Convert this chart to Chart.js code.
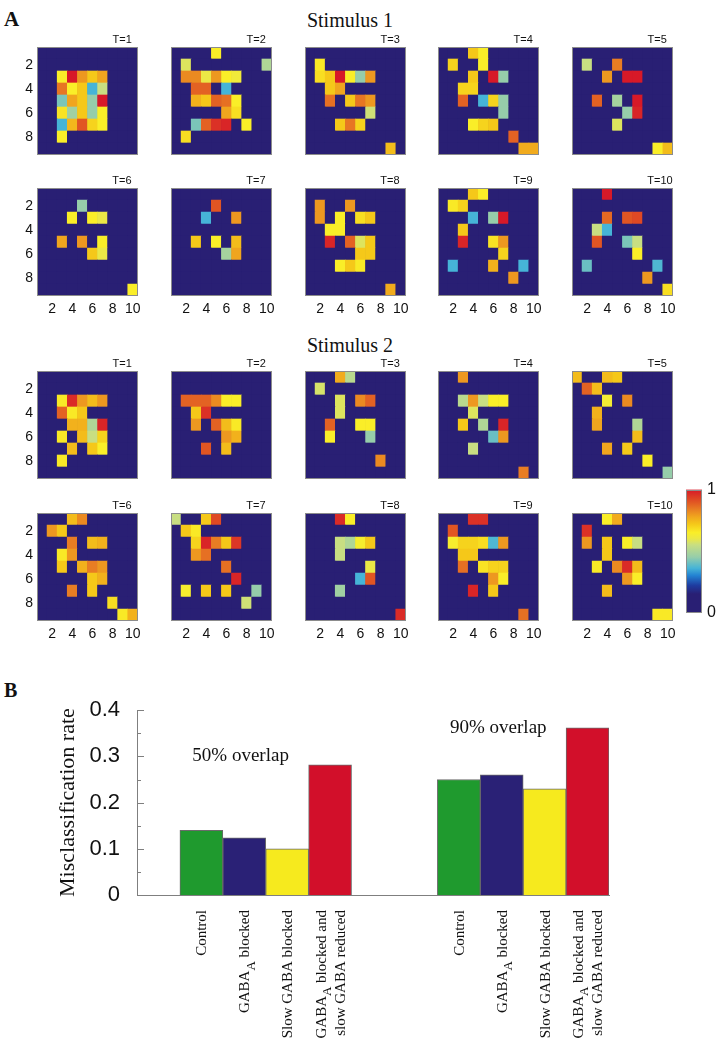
<!DOCTYPE html>
<html><head><meta charset="utf-8">
<script src="https://cdn.jsdelivr.net/npm/chart.js@4.4.1/dist/chart.umd.min.js"></script>
<style>
html,body{margin:0;padding:0;background:#fff;}
#page{position:relative;width:727px;height:1050px;overflow:hidden;background:#fff;}
#page canvas{position:absolute;}
.lbl{position:absolute;white-space:nowrap;font-family:'Liberation Serif','Times New Roman',serif;color:#111;line-height:1;}
</style></head><body><div id="page">
<div class="lbl" style="left:4px;top:9px;font-size:21px;font-weight:bold">A</div>
<div class="lbl" style="left:250px;width:200px;text-align:center;top:10px;font-size:20px">Stimulus 1</div>
<div class="lbl" style="left:250px;width:200px;text-align:center;top:335px;font-size:20px">Stimulus 2</div>
<div class="lbl" style="left:4px;top:680px;font-size:20px;font-weight:bold">B</div>
</div>
<script>
// ================= DATA =================
const ROW_TICKS = [2, 4, 6, 8];
const COL_TICKS = [2, 4, 6, 8, 10];
const T_LABELS = ['T=1','T=2','T=3','T=4','T=5','T=6','T=7','T=8','T=9','T=10'];
const COLORBAR_TICKS = [0, 1];

// Heat-map cells: [row, column, value]; cells not listed read as 0
const S1_T1 = [[3,3,.65],[3,4,1],[3,5,.8],[3,6,.72],[3,7,.78],[4,3,.85],[4,4,.65],[4,5,.72],[4,6,.36],[4,7,.55],[5,3,.42],[5,4,.78],[5,5,.72],[5,6,.45],[5,7,1],[6,3,.67],[6,4,.47],[6,5,.72],[6,6,.45],[6,7,.65],[7,3,.36],[7,4,.75],[7,5,.9],[7,6,.7],[7,7,.65],[8,3,.65]];
const S1_T2 = [[1,5,.65],[2,2,.58],[2,10,.5],[3,2,.82],[3,3,.82],[3,4,.6],[3,5,.8],[3,6,.65],[3,7,.62],[4,3,.88],[4,4,.88],[4,6,.36],[5,3,.76],[5,4,.72],[5,5,.88],[5,6,.86],[5,7,.65],[6,6,.78],[6,7,.68],[7,3,.42],[7,4,.88],[7,5,.96],[7,6,.98],[7,8,.65],[8,2,.68]];
const S1_T3 = [[2,2,.66],[3,2,.68],[3,3,.72],[3,4,1],[3,5,.65],[3,6,.45],[3,7,.8],[4,3,.72],[4,4,.78],[5,3,.86],[5,5,.72],[5,6,.85],[5,7,.8],[6,7,.56],[7,4,.72],[7,5,.85],[7,6,.7],[9,9,.74]];
const S1_T4 = [[1,4,.72],[1,5,.65],[2,2,.7],[2,5,.65],[3,4,.72],[3,6,1],[3,7,.45],[4,3,.7],[4,4,.7],[5,3,.88],[5,5,.36],[5,6,.7],[5,7,.45],[6,7,.45],[7,4,.65],[7,5,.7],[7,6,.72],[8,8,.88],[9,9,.77],[9,10,.77]];
const S1_T5 = [[2,2,.55],[2,5,.84],[3,4,.8],[3,6,1],[3,7,1],[5,3,.88],[5,5,.48],[5,7,1],[6,6,.45],[6,7,.98],[7,5,.58],[9,9,.65],[9,10,.74]];
const S1_T6 = [[2,5,.45],[3,4,.65],[3,6,.65],[3,7,.6],[5,3,.78],[5,5,.8],[5,7,.65],[6,6,.72],[6,7,.6],[9,10,.65]];
const S1_T7 = [[2,5,.9],[3,4,.36],[3,7,.8],[5,3,.72],[5,5,.65],[5,7,.74],[6,6,.48],[6,7,.78]];
const S1_T8 = [[2,2,.8],[2,5,.8],[3,2,.8],[3,4,.65],[3,6,.68],[3,7,.72],[4,3,.65],[4,4,.65],[5,3,.98],[5,5,.88],[5,6,.58],[5,7,.72],[6,6,.72],[6,7,.72],[7,4,.65],[7,5,.72],[7,6,.66],[9,9,.77]];
const S1_T9 = [[1,4,.72],[1,5,.65],[2,2,.66],[2,3,.7],[3,4,.36],[3,6,.45],[3,7,1],[4,3,.72],[5,3,.98],[5,6,.67],[5,7,.8],[6,7,.7],[7,2,.36],[7,6,.76],[7,9,.36],[8,8,.8]];
const S1_T10 = [[1,4,1],[3,4,.87],[3,6,.9],[3,7,.92],[4,3,.55],[4,4,.36],[5,3,.9],[5,6,.42],[5,7,.55],[6,7,.65],[7,2,.4],[7,9,.37],[8,8,.8],[9,10,.68]];

const S2_T1 = [[3,3,.66],[3,4,.97],[3,5,.8],[3,6,.74],[3,7,.8],[4,3,.88],[4,4,.66],[4,5,.72],[5,4,.76],[5,5,.76],[5,6,.5],[5,7,.98],[6,3,.66],[6,5,.74],[6,6,.55],[6,7,.7],[7,4,.74],[7,6,.72],[7,7,.65],[8,3,.66]];
const S2_T2 = [[3,2,.88],[3,3,.88],[3,4,.88],[3,5,.82],[3,6,.65],[3,7,.65],[4,3,.72],[4,4,.96],[5,3,.8],[5,5,.88],[5,6,.74],[5,7,.66],[6,6,.8],[6,7,.76],[7,4,.9],[7,6,.74]];
const S2_T3 = [[1,4,.77],[1,5,.52],[2,2,.57],[3,4,.58],[3,6,.82],[3,7,.88],[4,4,.58],[5,3,.88],[5,6,.65],[5,7,.65],[6,3,.65],[6,7,.45],[8,8,.82]];
const S2_T4 = [[1,3,.8],[3,3,.52],[3,4,.8],[3,5,.55],[3,6,.65],[3,7,.65],[4,4,.58],[5,3,.72],[5,5,.5],[5,7,.98],[6,6,.4],[6,7,.8],[7,4,.55],[9,9,.84]];
const S2_T5 = [[1,1,.74],[1,4,.74],[1,5,.72],[2,2,.88],[2,3,.74],[3,4,.63],[3,6,.82],[4,3,.76],[5,3,.78],[5,7,.5],[6,7,.74],[7,4,.78],[7,6,.72],[8,8,.65],[9,10,.45]];
const S2_T6 = [[1,4,.74],[1,5,.82],[2,2,.8],[2,3,.72],[3,4,.84],[3,6,.74],[3,7,.76],[4,3,.66],[4,4,.8],[5,3,.72],[5,5,.76],[5,6,.84],[5,7,.8],[6,6,.72],[6,7,.76],[7,4,.84],[7,6,.72],[8,8,.68],[9,9,.66],[9,10,.76]];
const S2_T7 = [[1,1,.55],[1,4,.72],[1,5,.92],[2,2,.72],[2,3,.66],[3,3,.7],[3,4,.98],[3,5,.84],[3,6,.72],[3,7,.95],[4,3,.8],[4,4,.86],[5,6,.86],[6,7,.98],[7,2,.64],[7,4,.72],[7,6,.72],[7,9,.45],[8,8,.56]];
const S2_T8 = [[1,4,.97],[1,5,.65],[3,4,.55],[3,5,.5],[3,6,.64],[3,7,.72],[4,4,.55],[5,7,.6],[6,6,.36],[6,7,.9],[7,4,.47],[9,10,.97]];
const S2_T9 = [[1,4,.96],[1,5,.96],[2,2,.9],[3,2,.64],[3,3,.7],[3,4,.7],[3,5,.68],[3,6,.37],[3,7,.8],[4,3,.72],[4,4,.72],[5,3,.86],[5,5,.67],[5,6,.7],[5,7,.7],[6,6,.8],[6,7,.65],[7,4,.98],[7,6,.72],[9,9,.86]];
const S2_T10 = [[1,4,.65],[1,5,.77],[2,2,.96],[3,2,.8],[3,4,.72],[3,6,.65],[3,7,.55],[4,4,.72],[5,3,.66],[5,5,.82],[5,6,.97],[5,7,.74],[6,6,.8],[6,7,.65],[7,4,.74],[9,9,.66],[9,10,.66]];

const STIMULUS_1 = [S1_T1,S1_T2,S1_T3,S1_T4,S1_T5,S1_T6,S1_T7,S1_T8,S1_T9,S1_T10];
const STIMULUS_2 = [S2_T1,S2_T2,S2_T3,S2_T4,S2_T5,S2_T6,S2_T7,S2_T8,S2_T9,S2_T10];

// Panel B
const CONDITIONS = ['Control', 'GABA_A blocked', 'Slow GABA blocked', 'GABA_A blocked and\nslow GABA reduced'];
const OVERLAP_50 = [0.14, 0.124, 0.10, 0.282];
const OVERLAP_90 = [0.25, 0.26, 0.23, 0.362];
const GROUP_LABELS = ['50% overlap', '90% overlap'];
const Y_TICKS = [0, 0.1, 0.2, 0.3, 0.4];
const Y_MINOR = [0.05, 0.15, 0.25, 0.35];

// ================= STYLE / LAYOUT =================
const CMAP_STOPS  = [0, 0.15, 0.22, 0.30, 0.36, 0.45, 0.55, 0.60, 0.65, 0.72, 0.78, 0.84, 0.90, 1.0];
const CMAP_COLORS = [[41,31,116],[41,31,116],[30,60,160],[35,130,210],[70,180,215],[150,205,170],[200,222,130],[235,232,70],[250,238,40],[245,200,25],[240,165,30],[232,125,35],[225,85,35],[215,25,40]];
function cmap(v) {
  v = Math.max(0, Math.min(1, v));
  for (let i = 1; i < CMAP_STOPS.length; i++) {
    if (v <= CMAP_STOPS[i]) {
      const a = CMAP_STOPS[i-1], b = CMAP_STOPS[i];
      const t = b === a ? 0 : (v - a) / (b - a);
      const c0 = CMAP_COLORS[i-1], c1 = CMAP_COLORS[i];
      return 'rgb(' + c0.map((c, k) => Math.round(c + (c1[k] - c) * t)).join(',') + ')';
    }
  }
  return 'rgb(' + CMAP_COLORS[CMAP_COLORS.length-1].join(',') + ')';
}

const SANS = "'Liberation Sans', Arial, sans-serif";
const NARROW = "'Liberation Sans Narrow', 'Liberation Sans', Arial, sans-serif";
const SERIF = "'Liberation Serif', 'Times New Roman', serif";
const PANEL_LEFT = [37, 171, 305, 438, 572];
const PANEL_TOP = [47, 188, 371, 513];
const PANEL_W = 101, PANEL_H = 108;
const YAX_W = 36, XAX_H = 26, PAD_T = 16, PAD_R = 8;
const N_ROWS = 9, N_COLS = 10;

const page = document.getElementById('page');
function addCanvas(left, top, w, h) {
  const cv = document.createElement('canvas');
  cv.width = w; cv.height = h;
  cv.style.left = left + 'px'; cv.style.top = top + 'px';
  cv.style.width = w + 'px'; cv.style.height = h + 'px';
  page.appendChild(cv);
  return cv;
}

const framePlugin = {
  id: 'frame',
  beforeDatasetsDraw(chart, args, opts) {
    const a = chart.chartArea, ctx = chart.ctx;
    if (opts.bg) { ctx.save(); ctx.fillStyle = opts.bg; ctx.fillRect(a.left, a.top, a.right - a.left, a.bottom - a.top); ctx.restore(); }
  },
  afterDatasetsDraw(chart, args, opts) {
    const a = chart.chartArea, ctx = chart.ctx;
    ctx.save();
    ctx.strokeStyle = opts.border || '#8c8c8c';
    ctx.lineWidth = 1;
    ctx.strokeRect(Math.round(a.left) + 0.5, Math.round(a.top) + 0.5, Math.round(a.right - a.left) - 1, Math.round(a.bottom - a.top) - 1);
    if (opts.label) {
      ctx.fillStyle = '#111';
      ctx.font = '11px ' + SANS;
      ctx.textAlign = 'left';
      ctx.textBaseline = 'middle';
      ctx.fillText(opts.label, a.right - 25.5, a.top - 7.5);
    }
    ctx.restore();
  }
};

function makeHeat(cells, left, top, showY, showX, label) {
  const grid = [];
  for (let r = 0; r < N_ROWS; r++) { grid.push(new Array(N_COLS).fill(0)); }
  cells.forEach(([r, c, v]) => { grid[r-1][c-1] = v; });
  const data = [], colors = [];
  for (let r = 1; r <= N_ROWS; r++) {
    for (let c = 1; c <= N_COLS; c++) {
      data.push({ x: c, y: [r - 0.5, r + 0.5] });
      colors.push(cmap(grid[r-1][c-1]));
    }
  }
  const W = YAX_W + PANEL_W + PAD_R, H = PAD_T + PANEL_H + XAX_H;
  const cv = addCanvas(left - YAX_W, top - PAD_T, W, H);
  const tickFont = { family: NARROW, size: 14 };
  new Chart(cv, {
    type: 'bar',
    data: { datasets: [{ data, backgroundColor: colors, borderWidth: 0, barPercentage: 1, categoryPercentage: 1 }] },
    options: {
      responsive: false, animation: false, devicePixelRatio: 1, events: [],
      layout: { padding: { top: PAD_T, right: PAD_R, left: 0, bottom: 0 } },
      plugins: { legend: { display: false }, tooltip: { enabled: false }, frame: { bg: cmap(0), label } },
      scales: {
        x: {
          type: 'linear', min: 0.5, max: 10.5, offset: false,
          grid: { display: false, drawTicks: false }, border: { display: false },
          ticks: { display: showX, autoSkip: false, maxRotation: 0, padding: 5, font: tickFont, color: '#111' },
          afterBuildTicks: (a) => { a.ticks = COL_TICKS.map(v => ({ value: v })); },
          afterFit: (a) => { a.height = XAX_H; }
        },
        y: {
          type: 'linear', reverse: true, min: 0.5, max: 9.5,
          grid: { display: false, drawTicks: false }, border: { display: false },
          ticks: { display: showY, autoSkip: false, padding: 4, font: tickFont, color: '#111' },
          afterBuildTicks: (a) => { a.ticks = ROW_TICKS.map(v => ({ value: v })); },
          afterFit: (a) => { a.width = YAX_W; }
        }
      }
    },
    plugins: [framePlugin]
  });
}

[STIMULUS_1, STIMULUS_2].forEach((stim, s) => {
  stim.forEach((cells, t) => {
    const rowIdx = s * 2 + (t < 5 ? 0 : 1);
    const colIdx = t % 5;
    makeHeat(cells, PANEL_LEFT[colIdx], PANEL_TOP[rowIdx], colIdx === 0, t >= 5, T_LABELS[t]);
  });
});

// ---------- colour bar ----------
(function () {
  const cv = addCanvas(686, 475, 42, 152);
  new Chart(cv, {
    type: 'bar',
    data: { labels: [''], datasets: [{
      data: [[0, 1]], borderWidth: 0, barPercentage: 1, categoryPercentage: 1,
      backgroundColor: (ctx) => {
        const a = ctx.chart.chartArea;
        if (!a) return cmap(0.5);
        const g = ctx.chart.ctx.createLinearGradient(0, a.bottom, 0, a.top);
        CMAP_STOPS.forEach((s, i) => g.addColorStop(s, 'rgb(' + CMAP_COLORS[i].join(',') + ')'));
        return g;
      }
    }] },
    options: {
      responsive: false, animation: false, devicePixelRatio: 1, events: [],
      layout: { padding: { top: 10, bottom: 10, left: 0, right: 0 } },
      plugins: { legend: { display: false }, tooltip: { enabled: false }, frame: { border: '#8c8c8c' } },
      scales: {
        x: { display: false },
        y: {
          position: 'right', min: 0, max: 1,
          grid: { display: false, drawTicks: false }, border: { display: false },
          ticks: { padding: 5, font: { family: SANS, size: 16 }, color: '#111' },
          afterBuildTicks: (a) => { a.ticks = COLORBAR_TICKS.map(v => ({ value: v })); },
          afterFit: (a) => { a.width = 26; }
        }
      }
    },
    plugins: [framePlugin]
  });
})();

// ---------- panel B bar chart ----------
const CONDITION_COLORS = ['#1f9a2e', '#2a2176', '#f6ea1e', '#d20f2a'];
const N_SLOTS = 11, GROUP_START = [1, 7];
const slotValues = new Array(N_SLOTS).fill(null);
const slotColors = new Array(N_SLOTS).fill('rgba(0,0,0,0)');
const slotLabels = new Array(N_SLOTS).fill('');
[OVERLAP_50, OVERLAP_90].forEach((vals, g) => {
  vals.forEach((v, i) => {
    const k = GROUP_START[g] + i;
    slotValues[k] = v; slotColors[k] = CONDITION_COLORS[i]; slotLabels[k] = CONDITIONS[i];
  });
});
const ANNOT = [{ slot: 1.915, value: 0.291 }, { slot: 7.92, value: 0.351 }];

function drawRichLine(ctx, line, x, y, size) {
  const parts = line.split(/(_A)/).filter(p => p.length);
  const fontMain = size + 'px ' + SERIF, fontSub = Math.round(size * 0.85) + 'px ' + SERIF;
  let total = 0;
  parts.forEach(p => { ctx.font = p === '_A' ? fontSub : fontMain; total += ctx.measureText(p === '_A' ? 'A' : p).width; });
  let px = x - total;
  parts.forEach(p => {
    const sub = p === '_A';
    ctx.font = sub ? fontSub : fontMain;
    const t = sub ? 'A' : p;
    ctx.fillText(t, px, y + (sub ? 6 : 0));
    px += ctx.measureText(t).width;
  });
}

const barDecor = {
  id: 'barDecor',
  afterDatasetsDraw(chart) {
    const ctx = chart.ctx, xs = chart.scales.x, ys = chart.scales.y, a = chart.chartArea;
    ctx.save();
    ctx.strokeStyle = '#7f7f7f'; ctx.lineWidth = 1;
    Y_TICKS.concat(Y_MINOR).forEach(v => {
      const y = Math.round(ys.getPixelForValue(v)) + 0.5;
      const len = Y_MINOR.includes(v) ? 4 : 7;
      ctx.beginPath(); ctx.moveTo(a.left, y); ctx.lineTo(a.left + len, y); ctx.stroke();
    });
    ctx.fillStyle = '#111';
    ctx.font = '19px ' + SERIF;
    ctx.textAlign = 'center'; ctx.textBaseline = 'alphabetic';
    ANNOT.forEach((p, g) => ctx.fillText(GROUP_LABELS[g], xs.getPixelForValue(p.slot), ys.getPixelForValue(p.value)));
    ctx.textAlign = 'left'; ctx.textBaseline = 'middle';
    slotLabels.forEach((lab, k) => {
      if (!lab) return;
      const lines = lab.split('\n');
      ctx.save();
      ctx.translate(xs.getPixelForValue(k) + 1, a.bottom + 15);
      ctx.rotate(-Math.PI / 2);
      lines.forEach((ln, i) => drawRichLine(ctx, ln, 0, (i - (lines.length - 1) / 2) * 19, 15));
      ctx.restore();
    });
    ctx.restore();
  }
};

(function () {
  const W = 630;
  const cv = addCanvas(0, 680, W, 370);
  new Chart(cv, {
    type: 'bar',
    data: { labels: slotLabels, datasets: [{
      data: slotValues, backgroundColor: slotColors, borderColor: '#6a6a6a', borderWidth: 1,
      barPercentage: 1, categoryPercentage: 1
    }] },
    options: {
      responsive: false, animation: false, devicePixelRatio: 1, events: [],
      layout: { padding: { top: 21, right: W - 609, left: 0, bottom: 0 } },
      plugins: { legend: { display: false }, tooltip: { enabled: false } },
      scales: {
        x: {
          grid: { display: false, drawTicks: false },
          border: { display: true, color: '#7f7f7f', width: 1 },
          ticks: { display: false },
          afterFit: (s) => { s.height = 155; }
        },
        y: {
          min: 0, max: 0.4,
          grid: { display: false, drawTicks: false },
          border: { display: true, color: '#7f7f7f', width: 1 },
          ticks: { padding: 17, font: { family: SANS, size: 22 }, color: '#111',
                   callback: (v) => (v === 0 ? '0' : Number(v).toFixed(1)) },
          afterBuildTicks: (s) => { s.ticks = Y_TICKS.map(v => ({ value: v })); },
          title: { display: true, text: 'Misclassification rate', font: { family: SERIF, size: 22 }, color: '#111', padding: { top: 55, bottom: 0 } },
          afterFit: (s) => { s.width = 137; }
        }
      }
    },
    plugins: [barDecor]
  });
})();
</script>
</body></html>
